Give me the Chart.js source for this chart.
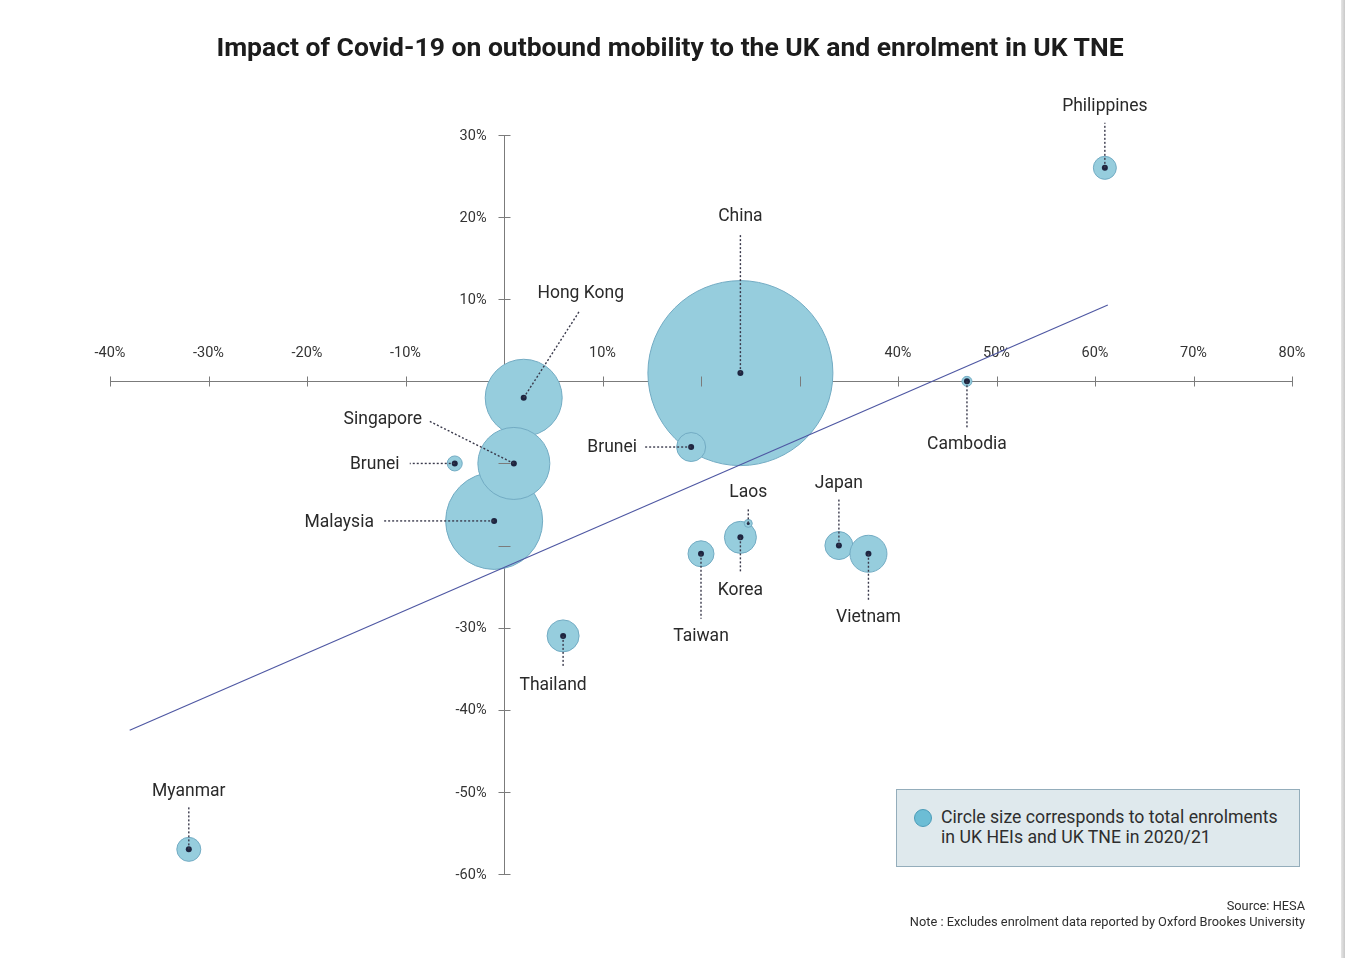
<!DOCTYPE html>
<html>
<head>
<meta charset="utf-8">
<title>Impact of Covid-19 on outbound mobility</title>
<script src="https://cdn.jsdelivr.net/npm/chart.js@4.4.0/dist/chart.umd.min.js"></script>
<style>
  body { margin: 0; background: #fff; font-family: Roboto, "Open Sans", sans-serif; }
  #wrap { position: relative; width: 1345px; height: 958px; overflow: hidden; }
  #chart { position: absolute; left: 0; top: 0; }
  h1 {
    position: absolute; left: 0; width: 1340px; top: 31px; margin: 0; text-align: center;
    font-size: 26.5px; line-height: 32px; font-weight: 700; color: #1c1c1c;
  }
  .key {
    position: absolute; left: 896px; top: 789px; width: 404px; height: 78px;
    background: #dfe9ed; border: 1px solid #94adbb; box-sizing: border-box;
  }
  .key .dot {
    position: absolute; left: 17px; top: 19px; width: 18px; height: 18px; border-radius: 50%;
    background: #6cbdd5; border: 1px solid #4c9cb8; box-sizing: border-box;
  }
  .key p {
    position: absolute; left: 44px; top: 17px; margin: 0;
    font-size: 17.7px; line-height: 20px; color: #2e2e2e;
  }
  .notes {
    position: absolute; right: 40px; top: 898px; text-align: right;
    font-size: 12.8px; line-height: 16px; color: #2e2e2e;
  }
  .edge {
    position: absolute; right: 0; top: 0; width: 4px; height: 958px;
    background: linear-gradient(to right, #e6e6e6, #c9c9c9);
  }
</style>
</head>
<body>
<div id="wrap">
  <canvas id="chart" width="1345" height="958"></canvas>
  <h1>Impact of Covid-19 on outbound mobility to the UK and enrolment in UK TNE</h1>
  <div class="key">
    <span class="dot"></span>
    <p>Circle size corresponds to total enrolments<br>in UK HEIs and UK TNE in 2020/21</p>
  </div>
  <div class="notes">Source: HESA<br>Note : Excludes enrolment data reported by Oxford Brookes University</div>
  <div class="edge"></div>
</div>
<script>
// one entry per country, drawn in this order (later circles sit on top)
const countries = ['China', 'Malaysia', 'Hong Kong', 'Singapore', 'Brunei', 'Brunei', 'Philippines',
  'Cambodia', 'Korea', 'Laos', 'Taiwan', 'Japan', 'Vietnam', 'Thailand', 'Myanmar'];
// change in outbound mobility to the UK (%)
const mobilityChange = [24, -1, 2, 1, -5, 19, 61, 47, 24, 24.8, 20, 34, 37, 6, -32];
// change in UK TNE enrolment (%)
const tneChange = [1, -17, -2, -10, -10, -8, 26, 0, -19, -17.3, -21, -20, -21, -31, -57];
// circle radius ~ total enrolments 2020/21
const circleSize = [92.5, 48.5, 38.5, 36, 7.5, 14.5, 11.5, 5, 16, 4, 13, 14, 18.5, 16, 12];

// fitted trend line end points
const trendX = [-38, 61.3];
const trendY = [-42.5, 9.3];

// tick labels that are left out
const hiddenXTicks = [0, 20, 30];
const hiddenYTicks = [0, -10, -20];

// where each name goes relative to its circle centre (px): text centre + end of the dotted leader
const labelPlace = [
  { dx: 0, dy: -158, lx: 0, ly: -138 },     // China
  { dx: -155, dy: 0, lx: -112, ly: 0 },     // Malaysia
  { dx: 57, dy: -106, lx: 56, ly: -87 },    // Hong Kong
  { dx: -131, dy: -46, lx: -84, ly: -42 },  // Singapore
  { dx: -80, dy: -1, lx: -45, ly: 0 },      // Brunei
  { dx: -79, dy: -1, lx: -46, ly: 0 },      // Brunei
  { dx: 0, dy: -63, lx: 0, ly: -45 },       // Philippines
  { dx: 0, dy: 61, lx: 0, ly: 47 },         // Cambodia
  { dx: 0, dy: 51, lx: 0, ly: 35 },         // Korea
  { dx: 0, dy: -33, lx: 0, ly: -16 },       // Laos
  { dx: 0, dy: 81, lx: 0, ly: 65 },         // Taiwan
  { dx: 0, dy: -64, lx: 0, ly: -47 },       // Japan
  { dx: 0, dy: 62, lx: 0, ly: 47 },         // Vietnam
  { dx: -10, dy: 48, lx: 0, ly: 32 },       // Thailand
  { dx: 0, dy: -60, lx: 0, ly: -42 }        // Myanmar
];

const FONT = 'Roboto, "Open Sans", sans-serif';

const points = countries.map((c, i) => ({ x: mobilityChange[i], y: tneChange[i], r: circleSize[i] }));
const centres = countries.map((c, i) => ({ x: mobilityChange[i], y: tneChange[i], r: c === 'Laos' ? 1.5 : 3 }));
const trend = trendX.map((x, i) => ({ x: x, y: trendY[i] }));

// small tick marks crossing both axes, plus the y labels left of the axis
const crossTicks = {
  id: 'crossTicks',
  afterDraw(chart) {
    const { ctx, scales: { x, y } } = chart;
    const x0 = Math.round(x.getPixelForValue(0)) + 0.5;
    const y0 = Math.round(y.getPixelForValue(0)) + 0.5;
    ctx.save();
    ctx.strokeStyle = '#7b7b7b';
    ctx.lineWidth = 1;
    ctx.beginPath();
    x.ticks.forEach(t => {
      if (t.value === 0) return;
      const px = Math.round(x.getPixelForValue(t.value)) + 0.5;
      ctx.moveTo(px, y0 - 5);
      ctx.lineTo(px, y0 + 5);
    });
    y.ticks.forEach(t => {
      if (t.value === 0) return;
      const py = Math.round(y.getPixelForValue(t.value)) + 0.5;
      ctx.moveTo(x0 - 6, py);
      ctx.lineTo(x0 + 6, py);
    });
    ctx.stroke();

    ctx.font = '14.5px ' + FONT;
    ctx.fillStyle = '#333';
    ctx.textAlign = 'right';
    ctx.textBaseline = 'middle';
    y.ticks.forEach(t => {
      if (hiddenYTicks.includes(t.value)) return;
      ctx.fillText(t.value + '%', x0 - 18, y.getPixelForValue(t.value) + 1);
    });
    ctx.restore();
  }
};

// country names with dotted leaders back to the circle centre
const leaderLabels = {
  id: 'leaderLabels',
  afterDraw(chart) {
    const { ctx, scales: { x, y } } = chart;
    ctx.save();
    ctx.font = '17.5px ' + FONT;
    ctx.textAlign = 'center';
    ctx.textBaseline = 'middle';
    countries.forEach((name, i) => {
      const px = x.getPixelForValue(mobilityChange[i]);
      const py = y.getPixelForValue(tneChange[i]);
      const p = labelPlace[i];
      ctx.setLineDash([2, 2]);
      ctx.lineWidth = 1.4;
      ctx.strokeStyle = '#3a3a4c';
      ctx.beginPath();
      ctx.moveTo(px, py);
      ctx.lineTo(px + p.lx, py + p.ly);
      ctx.stroke();
      ctx.setLineDash([]);
      ctx.fillStyle = '#2a2a2a';
      ctx.fillText(name, px + p.dx, py + p.dy + 2);
    });
    ctx.restore();
  }
};

new Chart(document.getElementById('chart'), {
  type: 'bubble',
  data: {
    datasets: [
      {
        type: 'line',
        label: 'Trend',
        data: trend,
        borderColor: '#4f58a3',
        borderWidth: 1.2,
        pointRadius: 0,
        fill: false,
        order: 0
      },
      {
        label: 'Centre',
        data: centres,
        backgroundColor: '#1e2540',
        borderWidth: 0,
        order: 1
      },
      {
        label: 'Enrolments',
        data: points,
        backgroundColor: '#96cddd',
        borderColor: '#72abc3',
        borderWidth: 1,
        order: 2
      }
    ]
  },
  options: {
    responsive: false,
    animation: false,
    // big circles must not shrink the plot area
    layout: { autoPadding: false, padding: { left: 110, right: 53, top: 135, bottom: 84 } },
    plugins: {
      legend: { display: false },
      tooltip: { enabled: false },
      title: { display: false }
    },
    scales: {
      x: {
        type: 'linear',
        min: -40,
        max: 80,
        position: { y: 0 },
        z: 1,
        grid: { drawOnChartArea: false, drawTicks: false },
        border: { display: true, color: '#7b7b7b', width: 1 },
        ticks: {
          stepSize: 10,
          padding: -37,
          color: '#333',
          font: { family: FONT, size: 14.5 },
          maxRotation: 0,
          autoSkip: false,
          callback: v => hiddenXTicks.includes(v) ? '' : v + '%'
        }
      },
      y: {
        type: 'linear',
        min: -60,
        max: 30,
        position: { x: 0 },
        z: 1,
        grid: { drawOnChartArea: false, drawTicks: false },
        border: { display: true, color: '#7b7b7b', width: 1 },
        ticks: { display: false, stepSize: 10, autoSkip: false }
      }
    }
  },
  plugins: [crossTicks, leaderLabels]
});
</script>
</body>
</html>
